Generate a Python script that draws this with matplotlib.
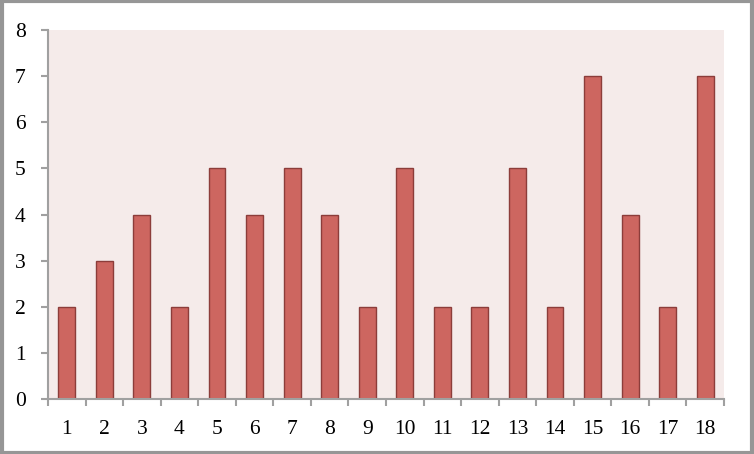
import numpy as np
import matplotlib.pyplot as plt

plt.rcParams['font.family'] = ['Liberation Serif', 'DejaVu Serif']

categories = [str(i) for i in range(1, 19)]
values = [2, 3, 4, 2, 5, 4, 5, 4, 2, 5, 2, 2, 5, 2, 7, 4, 2, 7]

fig = plt.figure(figsize=(7.54, 4.54), dpi=100)
fig.patch.set_facecolor('white')
fig.patches.append(plt.Rectangle((0.002, 0.003), 0.995, 0.994, transform=fig.transFigure,
                                 fill=False, edgecolor='#969696', linewidth=3))

ax = fig.add_axes([0.0637, 0.121, 0.8965, 0.813])
ax.set_facecolor('#F5EBEA')
x = np.arange(len(categories))
ax.bar(x, values, width=0.45, color='#CD6660', edgecolor='#8C3D3A', linewidth=1)

ax.set_xlim(-0.5, len(categories) - 0.5)
ax.set_ylim(0, 8)
ax.set_yticks(range(0, 9))
ax.set_xticks(x)
ax.set_xticklabels(categories)
ax.set_xticks(np.arange(-0.5, len(categories)), minor=True)
ax.tick_params(axis='x', which='major', length=0, pad=15, labelsize=15.5)
ax.tick_params(axis='x', which='minor', length=5, width=1.5, color='#A0A0A0', direction='out')
ax.tick_params(axis='y', length=5, width=1.5, color='#A0A0A0', direction='out', pad=11, labelsize=15.5)

for s in ['top', 'right']:
    ax.spines[s].set_visible(False)
for s in ['left', 'bottom']:
    ax.spines[s].set_color('#A0A0A0')
    ax.spines[s].set_linewidth(1.5)

fig.savefig('out.png', dpi=100)
